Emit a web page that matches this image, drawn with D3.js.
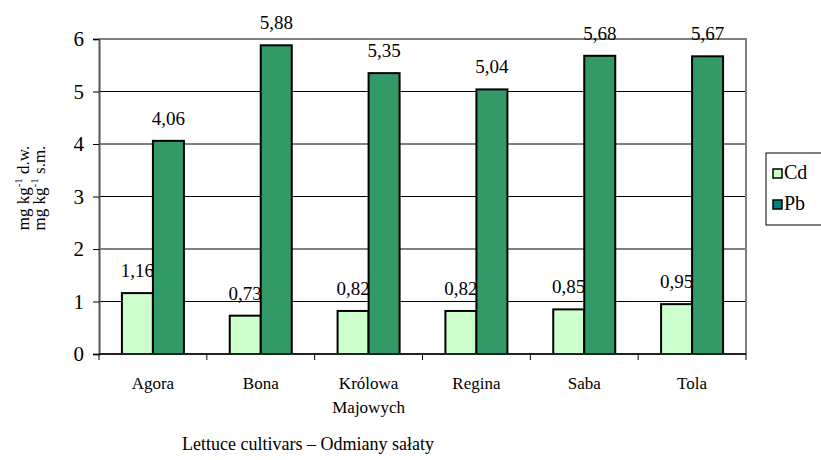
<!DOCTYPE html>
<html>
<head>
<meta charset="utf-8">
<script src="https://cdn.jsdelivr.net/npm/d3@7"></script>
<style>
  body { margin: 0; background: #fff; }
  svg text { font-family: "Liberation Serif", "DejaVu Serif", serif !important; fill: #000; }
</style>
</head>
<body>
<div id="chart"></div>
<script>
var categories = ['Agora', 'Bona', 'Królowa Majowych', 'Regina', 'Saba', 'Tola'];
var seriesNames = ['Cd', 'Pb'];
var cdValues = [1.16, 0.73, 0.82, 0.82, 0.85, 0.95];
var pbValues = [4.06, 5.88, 5.35, 5.04, 5.68, 5.67];
var yTicks = [0, 1, 2, 3, 4, 5, 6];

var width = 821, height = 460;
var plotLeft = 99, plotRight = 746, plotTop = 39, plotBottom = 354;
var serif = 'Liberation Serif';

var barColor = { Cd: '#ccffcc', Pb: '#339966' };
var legendColor = { Cd: '#ccffcc', Pb: '#008080' };

var svg = d3.select('#chart').append('svg')
    .attr('width', width)
    .attr('height', height)
    .attr('font-family', serif);

var x0 = d3.scaleBand()
    .domain(categories)
    .range([plotLeft, plotRight])
    .paddingInner(0.425)
    .paddingOuter(0.2125);

var x1 = d3.scaleBand()
    .domain(seriesNames)
    .range([0, x0.bandwidth()]);

var y = d3.scaleLinear()
    .domain([0, 6])
    .range([plotBottom, plotTop]);

var fmt = function (v) { return d3.format('.2f')(v).replace('.', ','); };

// gridlines
svg.append('g').selectAll('line')
    .data(yTicks.filter(function (d) { return d > 0 && d < 6; }))
    .enter().append('line')
    .attr('x1', plotLeft).attr('x2', plotRight)
    .attr('y1', function (d) { return y(d); })
    .attr('y2', function (d) { return y(d); })
    .attr('stroke', '#000')
    .attr('stroke-width', 1);

// plot border top/right
svg.append('path')
    .attr('d', 'M' + plotLeft + ',' + y(6) + 'H' + plotRight + 'V' + plotBottom)
    .attr('fill', 'none')
    .attr('stroke', '#808080')
    .attr('stroke-width', 2);

// y axis
var yAxis = d3.axisLeft(y).tickValues(yTicks).tickFormat(d3.format('d')).tickSize(6).tickPadding(9);
var gy = svg.append('g')
    .attr('transform', 'translate(' + plotLeft + ',0)')
    .call(yAxis)
    .attr('font-family', serif)
    .attr('font-size', 21);
gy.select('.domain').attr('stroke', '#555').attr('stroke-width', 2);
gy.selectAll('.tick line').attr('stroke', '#000');
gy.selectAll('.tick text').attr('font-family', serif).attr('font-size', 21);

// data: one row per category
var rows = categories.map(function (c, i) {
    return { cat: c, Cd: cdValues[i], Pb: pbValues[i] };
});

function drawSeries(name) {
    svg.append('g').selectAll('rect')
        .data(rows)
        .enter().append('rect')
        .attr('x', function (d) { return x0(d.cat) + x1(name); })
        .attr('y', function (d) { return y(d[name]); })
        .attr('width', x1.bandwidth())
        .attr('height', function (d) { return y(0) - y(d[name]); })
        .attr('fill', barColor[name])
        .attr('stroke', '#000')
        .attr('stroke-width', 2);

    svg.append('g').selectAll('text')
        .data(rows)
        .enter().append('text')
        .attr('x', function (d) { return x0(d.cat) + x1(name) + x1.bandwidth() / 2; })
        .attr('y', function (d) { return y(d[name]) - 16; })
        .attr('text-anchor', 'middle')
        .attr('font-size', 19)
        .text(function (d) { return fmt(d[name]); });
}
// Cd labels get partly covered by the Pb bars, as in the original
drawSeries('Cd');
drawSeries('Pb');

// x axis
var gx = svg.append('g').attr('transform', 'translate(0,' + plotBottom + ')');
gx.append('line')
    .attr('x1', plotLeft).attr('x2', plotRight)
    .attr('stroke', '#222').attr('stroke-width', 2);
var bounds = categories.map(function (c) { return x0(c) - x0.step() * x0.paddingInner() / 2; });
bounds.push(plotRight);
gx.selectAll('.xt')
    .data(bounds)
    .enter().append('line')
    .attr('class', 'xt')
    .attr('x1', function (d) { return d; })
    .attr('x2', function (d) { return d; })
    .attr('y1', 0).attr('y2', 6)
    .attr('stroke', '#000');

var catLabels = gx.selectAll('.cl')
    .data(categories)
    .enter().append('text')
    .attr('class', 'cl')
    .attr('text-anchor', 'middle')
    .attr('transform', function (d) { return 'translate(' + (x0(d) + x0.bandwidth() / 2) + ',35)'; })
    .attr('font-size', 17);
catLabels.each(function (d) {
    var words = d.split(' ');
    var t = d3.select(this);
    words.forEach(function (w, i) {
        t.append('tspan').attr('x', 0).attr('dy', i === 0 ? 0 : 24).text(w);
    });
});

// x title
svg.append('text')
    .attr('x', 308)
    .attr('y', 450)
    .attr('text-anchor', 'middle')
    .attr('font-size', 18)
    .text('Lettuce cultivars – Odmiany sałaty');

// y title (two rotated lines)
var yTitles = [['mg kg', '-1', ' d.w.'], ['mg kg', '-1', ' s.m.']];
var yt = svg.append('g').attr('transform', 'translate(29,188) rotate(-90)');
yTitles.forEach(function (parts, i) {
    var t = yt.append('text')
        .attr('x', 0)
        .attr('y', i * 16)
        .attr('text-anchor', 'middle')
        .attr('font-size', 17);
    t.append('tspan').text(parts[0]);
    t.append('tspan').attr('dy', -7).attr('font-size', 11).text(parts[1]);
    t.append('tspan').attr('dy', 7).text(parts[2]);
});

// legend
var lg = svg.append('g').attr('transform', 'translate(766,153)');
lg.append('rect')
    .attr('width', 70).attr('height', 72)
    .attr('fill', '#fff')
    .attr('stroke', '#000');
var li = lg.selectAll('.li')
    .data(seriesNames)
    .enter().append('g')
    .attr('class', 'li')
    .attr('transform', function (d, i) { return 'translate(7,' + (16 + i * 31) + ')'; });
li.append('rect')
    .attr('width', 9).attr('height', 9)
    .attr('fill', function (d) { return legendColor[d]; })
    .attr('stroke', '#000')
    .attr('stroke-width', 1.5);
li.append('text')
    .attr('x', 11)
    .attr('y', 10)
    .attr('font-size', 20)
    .text(function (d) { return d; });
</script>
</body>
</html>
